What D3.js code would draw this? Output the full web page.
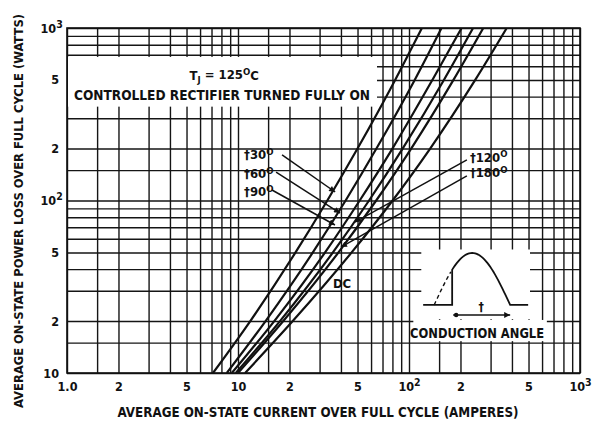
<!DOCTYPE html>
<html><head><meta charset="utf-8">
<script src="https://cdn.jsdelivr.net/npm/d3@7/dist/d3.min.js"></script>
<style>
html,body{margin:0;padding:0;background:#fff;}
svg{display:block;}
text{font-family:"DejaVu Sans Condensed","Liberation Sans Narrow",sans-serif;font-weight:bold;fill:#111;}
</style></head><body>
<svg id="chart" width="598" height="425"></svg>
<script>
// ---------- data ----------
const xGridValues = [1,1.5,2,3,4,5,6,7,8,9,10,15,20,30,40,50,60,70,80,90,100,150,200,300,400,500,600,700,800,900,1000];
const yGridValues = [10,15,20,30,40,50,60,70,80,90,100,150,200,300,400,500,600,700,800,900,1000];
const xTickValues = [1,2,5,10,20,50,100,200,500,1000];
const xTickBase   = ["1.0","2","5","10","2","5","10","2","5","10"];
const xTickSup    = ["","","","","","","2","","","3"];
const yTickValues = [10,20,50,100,200,500,1000];
const yTickBase   = ["10","2","5","10","2","5","10"];
const yTickSup    = ["","","","2","","","3"];

// power levels (W) at which each curve's current (A) was read
const powerLevels = [10, 20, 50, 100, 200, 500, 1000];
const seriesNames = ["30°","60°","90°","120°","180°","DC"];
const current30  = [7.14, 11.8, 21.7, 33.3, 50.0, 83.0, 119];
const current60  = [8.6, 14.5, 27.4, 42.6, 64.5, 108, 155];
const current90  = [9.2, 16.3, 32.3, 51.5, 80.0, 137, 203];
const current120 = [9.7, 17.6, 35.9, 58.4, 91.8, 160, 237];
const current180 = [10.0, 18.4, 38.7, 64.3, 103, 182, 272];
const currentDC  = [11.0, 20.9, 46.2, 80.2, 133, 244, 373];
const seriesCurrents = [current30, current60, current90, current120, current180, currentDC];

const xTitle = "AVERAGE ON-STATE CURRENT OVER FULL CYCLE (AMPERES)";
const yTitle = "AVERAGE ON-STATE POWER LOSS OVER FULL CYCLE (WATTS)";

// ---------- scales ----------
const W = 598, H = 425;
const m = {left:67, right:18, top:28, bottom:52};
const x = d3.scaleLog().domain([1,1000]).range([m.left, W - m.right]);
const y = d3.scaleLog().domain([10,1000]).range([H - m.bottom, m.top]);
const svg = d3.select("#chart");
const x0 = x.range()[0], x1 = x.range()[1], y0 = y.range()[0], y1 = y.range()[1];
const FONT = '"DejaVu Sans Condensed","Liberation Sans Narrow",sans-serif';

// ---------- grid via axes ----------
const xAxis = d3.axisBottom(x).tickValues(xGridValues).tickSize(-(y0 - y1)).tickPadding(9)
  .tickFormat(d => { const k = xTickValues.indexOf(d); return k < 0 ? "" : xTickBase[k]; });
const gx = svg.append("g").attr("transform", `translate(0,${y0})`).call(xAxis);
const yAxis = d3.axisLeft(y).tickValues(yGridValues).tickSize(-(x1 - x0)).tickPadding(8)
  .tickFormat(d => { const k = yTickValues.indexOf(d); return k < 0 ? "" : yTickBase[k]; });
const gy = svg.append("g").attr("transform", `translate(${x0},0)`).call(yAxis);
[gx, gy].forEach(g => {
  g.select(".domain").remove();
  g.selectAll(".tick line").attr("stroke", "#151515").attr("stroke-width", 1.4);
  g.selectAll(".tick text").attr("font-size", 12.5).attr("fill", "#111")
    .style("font-family", FONT).style("font-weight","bold");
});
gx.selectAll(".tick text").each(function(d){
  const k = xTickValues.indexOf(d);
  if (k >= 0 && xTickSup[k]) d3.select(this).append("tspan").attr("dy","-0.45em").attr("font-size",10.5).text(xTickSup[k]);
});
gy.selectAll(".tick text").each(function(d){
  const k = yTickValues.indexOf(d);
  if (k >= 0 && yTickSup[k]) {
    d3.select(this).append("tspan").attr("dy","-0.45em").attr("font-size",10.5).text(yTickSup[k]);
    d3.select(this).attr("dx","0.3em");
  }
});

// ---------- white boxes behind annotations ----------
svg.append("rect").attr("x", x0 + 1).attr("y", y(680)).attr("width", x(65) - x0 - 1).attr("height", y(350) - y(680)).attr("fill", "#fff");
svg.append("rect").attr("x", x(118)).attr("y", y(52)).attr("width", x(510) - x(118)).attr("height", y(20.5) - y(52)).attr("fill", "#fff");
svg.append("rect").attr("x", x(106)).attr("y", y(20.3)).attr("width", x(640) - x(106)).attr("height", y(15.3) - y(20.3)).attr("fill", "#fff");

// border
svg.append("rect").attr("x", x0).attr("y", y1).attr("width", x1 - x0).attr("height", y0 - y1)
  .attr("fill", "none").attr("stroke", "#111").attr("stroke-width", 1.6);

// ---------- curves ----------
svg.append("clipPath").attr("id","plotclip").append("rect")
  .attr("x", x0).attr("y", y1).attr("width", x1 - x0).attr("height", y0 - y1);
const line = d3.line().x(d => x(d[0])).y(d => y(d[1])).curve(d3.curveMonotoneX);
svg.append("g").attr("clip-path","url(#plotclip)").selectAll("path")
  .data(seriesCurrents.map(cs => cs.map((c,i) => [c, powerLevels[i]])))
  .join("path").attr("d", line).attr("fill","none").attr("stroke","#111").attr("stroke-width",2.2);

// ---------- annotations ----------
const defs = svg.append("defs");
defs.append("marker").attr("id","ah").attr("viewBox","0 0 10 10").attr("refX",10).attr("refY",5)
  .attr("markerWidth",9).attr("markerHeight",6).attr("markerUnits","userSpaceOnUse").attr("orient","auto")
  .append("path").attr("d","M0,0L10,5L0,10z").attr("fill","#111");

const tText = svg.append("text").attr("x", x(5.2)).attr("y", y(500)).attr("font-size", 13);
tText.append("tspan").text("T");
tText.append("tspan").attr("dy","0.3em").attr("font-size",9.5).text("J");
tText.append("tspan").attr("dy","-0.3em").text(" = 125");
tText.append("tspan").attr("dy","-0.45em").attr("font-size",9.5).text("O");
tText.append("tspan").attr("dy","0.45em").text("C");
svg.append("text").attr("x", x(8.06)).attr("y", y(383)).attr("text-anchor","middle").attr("font-size",13.5)
  .attr("textLength", 296).attr("lengthAdjust","spacingAndGlyphs")
  .text("CONTROLLED RECTIFIER TURNED FULLY ON");

const angleLabels = [
  {base:"†30", i:10.85, p:174},
  {base:"†60", i:10.85, p:135},
  {base:"†90", i:10.85, p:106},
  {base:"†120", i:227, p:168},
  {base:"†180", i:227, p:136}
];
angleLabels.forEach(a => {
  const t = svg.append("text").attr("x", x(a.i)).attr("y", y(a.p)).attr("font-size",13);
  t.append("tspan").text(a.base);
  t.append("tspan").attr("dy","-0.45em").attr("font-size",9.5).text("O");
});
svg.append("text").attr("x", x(40.6)).attr("y", y(31)).attr("text-anchor","middle").attr("font-size",13).text("DC");

const arrows = [
  [[18.1,184],[37.0,112]],
  [[16.7,146],[39.5,84.6]],
  [[15.8,115],[36.9,72.1]],
  [[218,172],[48.3,75]],
  [[218,139],[40,53.7]]
];
svg.append("g").selectAll("line").data(arrows).join("line")
  .attr("x1", d => x(d[0][0])).attr("y1", d => y(d[0][1]))
  .attr("x2", d => x(d[1][0])).attr("y2", d => y(d[1][1]))
  .attr("stroke","#111").attr("stroke-width",1.5).attr("marker-end","url(#ah)");

// ---------- inset: conduction angle ----------
const ax = x(121), ay = y(24.8);   // anchor at left end of baseline
const sx0 = ax + 11, sx1 = ax + 87, amp = 52;
const hump = d3.range(0, 1.0001, 0.02).map(t => [sx0 + t*(sx1 - sx0), ay - amp*Math.sin(Math.PI*t)]);
const cutX = ax + 29;
const solidPath = [[ax, ay],[cutX, ay],[cutX, ay - amp*Math.sin(Math.PI*(cutX - sx0)/(sx1 - sx0))]]
  .concat(hump.filter(p => p[0] > cutX)).concat([[ax + 105, ay]]);
svg.append("path").attr("d", d3.line()(solidPath)).attr("fill","none").attr("stroke","#111").attr("stroke-width",1.8);
svg.append("path").attr("d", d3.line()(hump.filter(p => p[0] <= cutX)))
  .attr("fill","none").attr("stroke","#111").attr("stroke-width",1.4).attr("stroke-dasharray","4,3");
svg.append("line").attr("x1", cutX + 1).attr("x2", sx1).attr("y1", ay + 10).attr("y2", ay + 10)
  .attr("stroke","#111").attr("stroke-width",1.5).attr("marker-end","url(#ah)");
svg.append("circle").attr("cx", cutX + 4).attr("cy", ay + 10).attr("r", 2.2).attr("fill","#111");
svg.append("text").attr("x", (cutX + sx1)/2).attr("y", ay + 6).attr("text-anchor","middle").attr("font-size",12).text("†");
svg.append("text").attr("x", x(250)).attr("y", y(15.9)).attr("text-anchor","middle").attr("font-size",13.5)
  .attr("textLength", 134).attr("lengthAdjust","spacingAndGlyphs").text("CONDUCTION ANGLE");

// ---------- titles ----------
svg.append("text").attr("x", 318).attr("y", 417).attr("text-anchor","middle").attr("font-size",13.5)
  .attr("textLength", 401).attr("lengthAdjust","spacingAndGlyphs").text(xTitle);
svg.append("text").attr("transform", `translate(23,211) rotate(-90)`).attr("text-anchor","middle").attr("font-size",13)
  .attr("textLength", 394).attr("lengthAdjust","spacingAndGlyphs").text(yTitle);
</script>
</body></html>
